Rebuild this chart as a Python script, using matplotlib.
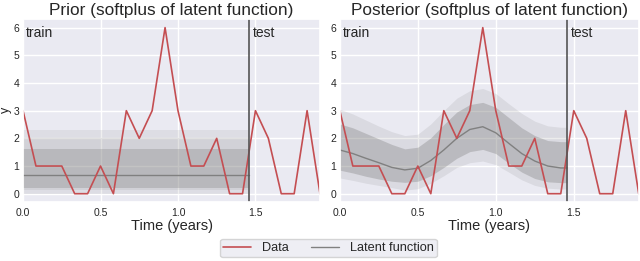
import numpy as np
import matplotlib
matplotlib.use('Agg')
import matplotlib.pyplot as plt
import seaborn as sns

# monthly counts, t = k/12
months = np.arange(24)
counts = [3, 1, 1, 1, 0, 0, 1, 0, 3, 2, 3, 6, 3, 1, 1, 2, 0, 0, 3, 2, 0, 0, 3, 0]
split_month = 17.5

# prior bands (softplus of latent), constant over the train period
prior_mean = 0.69
prior_bands = [(0.0, 2.29), (0.12, 2.0), (0.21, 1.61)]

# posterior at months 0..17 and the split point
post_months = list(range(18)) + [17.5]
post_mean = [1.58, 1.45, 1.28, 1.12, 0.95, 0.86, 0.92, 1.2, 1.58, 2.0, 2.32, 2.42,
             2.2, 1.82, 1.45, 1.18, 1.0, 0.93, 0.93]
post_out_lo = [0.57, 0.48, 0.38, 0.3, 0.22, 0.13, 0.18, 0.38, 0.65, 0.95, 1.12, 1.18,
               1.05, 0.78, 0.5, 0.3, 0.2, 0.17, 0.17]
post_out_hi = [3.05, 2.88, 2.66, 2.44, 2.24, 2.1, 2.15, 2.52, 3.0, 3.45, 3.72, 3.8,
               3.62, 3.25, 2.9, 2.62, 2.45, 2.4, 2.4]
post_in_lo = [0.85, 0.75, 0.63, 0.53, 0.45, 0.41, 0.45, 0.65, 0.95, 1.28, 1.52, 1.6,
              1.45, 1.1, 0.78, 0.55, 0.43, 0.4, 0.4]
post_in_hi = [2.52, 2.38, 2.18, 1.98, 1.78, 1.62, 1.68, 2.02, 2.5, 2.95, 3.22, 3.3,
              3.12, 2.75, 2.38, 2.1, 1.92, 1.88, 1.88]

sns.set_theme(style='darkgrid')
plt.rcParams['font.family'] = ['Liberation Sans', 'DejaVu Sans']

red = '#c44e52'
t = np.array(months) / 12
t_split = split_month / 12
tp = np.array(post_months) / 12

fig = plt.figure(figsize=(6.4, 2.61), dpi=100)
ax1 = fig.add_axes([0.036, 0.226, 0.464, 0.70])
ax2 = fig.add_axes([0.531, 0.226, 0.467, 0.70])

# prior
xs = [0, t_split]
for (lo, hi), a in zip(prior_bands, [0.12, 0.12, 0.3]):
    ax1.fill_between(xs, [lo, lo], [hi, hi], color='grey', alpha=a, lw=0)
ax1.plot(xs, [prior_mean, prior_mean], color='grey', lw=1)
ax1.set_title('Prior (softplus of latent function)', fontsize=12.4, pad=3)
fig.text(0.0, 0.579, 'y', rotation=90, ha='left', va='center', fontsize=9)

# posterior
ax2.fill_between(tp, post_out_lo, post_out_hi, color='grey', alpha=0.15, lw=0)
ax2.fill_between(tp, post_in_lo, post_in_hi, color='grey', alpha=0.35, lw=0)
ax2.plot(tp, post_mean, color='grey', lw=1)
ax2.set_title('Posterior (softplus of latent function)', fontsize=12.4, pad=3)

for ax in (ax1, ax2):
    ax.plot(t, counts, color=red, lw=1.2)
    ax.axvline(t_split, color='#555555', lw=1.2)
    ax.set_xlim(0, t[-1])
    ax.set_ylim(-0.3, 6.3)
    ax.set_xticks([0, 0.5, 1.0, 1.5])
    ax.set_xticklabels(['0.0', '0.5', '1.0', '1.5'])
    ax.set_yticks(range(7))
    ax.tick_params(axis='x', labelsize=7.5, length=0, pad=4)
    ax.tick_params(axis='y', labelsize=7.5, length=0, pad=2.5)
    ax.set_xlabel('Time (years)', fontsize=10.5, labelpad=1)
    ax.text(0.02, 5.65, 'train', fontsize=10, color='#262626')
    ax.text(t_split + 0.025, 5.65, 'test', fontsize=10, color='#262626')

handles = [plt.Line2D([], [], color=red, lw=1.2), plt.Line2D([], [], color='grey', lw=1)]
fig.legend(handles, ['Data', 'Latent function'], loc='lower center', ncol=2,
           bbox_to_anchor=(0.513, -0.01), fontsize=9.2, frameon=True,
           borderpad=0.25, handlelength=2.2, columnspacing=1.8)

fig.savefig('out.png', dpi=100)
